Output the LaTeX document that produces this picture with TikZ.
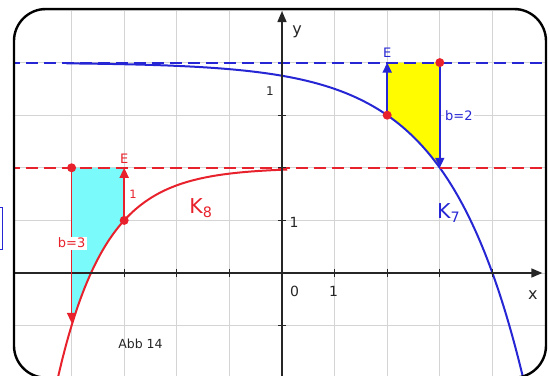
\documentclass[tikz,border=0pt]{standalone}
\usepackage{fontspec}
\setmainfont{DejaVu Sans}
\usetikzlibrary{arrows.meta,positioning}
\definecolor{kblue}{RGB}{38,38,212}
\definecolor{kred}{RGB}{232,34,44}
\definecolor{kcyan}{RGB}{122,250,250}
\definecolor{kyellow}{RGB}{255,252,0}

\begin{document}
\begin{tikzpicture}[
    x=52.6pt, y=52.6pt,
    font=\fontsize{13}{15}\selectfont,
    gridline/.style={black!17, line width=0.8pt},
    axis/.style={-{Triangle[length=11pt,width=9pt]}, line width=1.5pt, black!85},
    tickmark/.style={line width=1.3pt, black!85},
    curve/.style={line width=2pt, samples=160, smooth},
    asym/.style={line width=1.9pt, dash pattern=on 12pt off 6pt},
    shiftarrow/.style={-{Triangle[length=10pt,width=9pt]}, line width=1.8pt},
    dot/.style={circle, fill=kred, inner sep=0pt, minimum size=9pt},
    numlabel/.style={font=\fontsize{14}{16}\selectfont, black!85, inner sep=0pt},
    blabel/.style={fill=white, inner sep=1.5pt, font=\fontsize{13}{15}\selectfont},
    klabel/.style={font=\fontsize{20.5}{22}\selectfont, inner sep=0pt}
]
\useasboundingbox (-5.361,-1.958) rectangle (5.076,5.190);

\begin{scope}
\clip[rounded corners=32pt] (-5.095,-1.99) rectangle (5.019,5.019);
% grid
\foreach \i in {-4,...,4}
    \draw[gridline] (\i,-2.2) -- (\i,5.2);
\foreach \j in {-1,...,5}
    \draw[gridline] (-5.2,\j) -- (5.2,\j);

% areas
\fill[kcyan] plot[domain=-4:-3, samples=40] (\x,{2-pow(3,-(\x)-3)})
    -- (-3,2) -- (-4,2) -- cycle;
\fill[kyellow] plot[domain=2:3, samples=40] (\x,{4-pow(2,\x-2)})
    -- (3,4) -- (2,4) -- cycle;

% curves
\draw[curve, kblue] plot[domain=-4.1:4.6] (\x,{4-pow(2,\x-2)});
\draw[curve, kred] plot[domain=-4.27:0.1] (\x,{2-pow(3,-(\x)-3)});

% asymptotes
\draw[asym, kblue] (-5.2,4) -- (5.2,4);
\draw[asym, kred] (-5.2,2) -- (5.2,2);

% axes
\coordinate (o) at (0,0);
\coordinate (xend) at (4.95,0);
\coordinate (yend) at (0,4.98);
\draw[axis] (-5.2,0) -- (xend);
\draw[axis] (0,-2.2) -- (yend);
\foreach \i in {-4,...,-1,1,2,3,4}
    \draw[tickmark] (\i,0) ++(0,-4pt) -- ++(0,8pt);
\foreach \j in {-1,1,2,3}
    \draw[tickmark] (0,\j) ++(-4pt,0) -- ++(8pt,0);

% shifts
\coordinate (p8) at (-4,2);
\coordinate (q8) at (-4,-0.95);
\coordinate (r8) at (-3,1);
\coordinate (s8) at (-3,2);
\coordinate (p7) at (2,3);
\coordinate (s7) at (2,4);
\coordinate (r7) at (3,4);
\coordinate (q7) at (3,2);
\draw[shiftarrow, kred] (p8) -- (q8)
    node[blabel, text=kred, pos=0.485] (b8) {b=3};
\draw[shiftarrow, kred] (r8) -- (s8)
    node[pos=0.5, right=1pt, text=kred, font=\fontsize{11.5}{13}\selectfont] (one8) {1};
\draw[shiftarrow, kblue] (p7) -- (s7);
\draw[shiftarrow, kblue] (r7) -- (q7)
    node[blabel, text=kblue, pos=0.5, anchor=west, xshift=3pt] (b7) {b=2};
\node[dot] (dp8) at (p8) {};
\node[dot] (dr8) at (r8) {};
\node[dot] (dp7) at (p7) {};
\node[dot] (dr7) at (r7) {};
\end{scope}

% labels
\node[text=kred, above=4.5pt of s8, inner sep=0pt] (e8) {E};
\node[text=kblue, above=4.5pt of s7, inner sep=0pt] (e7) {E};
\node[klabel, text=kred] (k8) at (-1.54,1.23) {K\textsubscript{8}};
\node[klabel, text=kblue] (k7) at (3.17,1.14) {K\textsubscript{7}};
\node[font=\fontsize{16}{18}\selectfont, black!85] (ylab) at (0.285,4.58) {y};
\node[font=\fontsize{16}{18}\selectfont, black!85] (xlab) at (4.77,-0.42) {x};
\node[numlabel] (n0) at (0.24,-0.35) {0};
\node[numlabel] (nx1) at (0.98,-0.35) {1};
\node[numlabel] (ny1) at (0.23,0.97) {1};
\node[numlabel, font=\fontsize{12}{14}\selectfont] (nq1) at (-0.23,3.46) {1};
\node[black!85, font=\fontsize{12.5}{14}\selectfont] (abb) at (-2.69,-1.35) {Abb 14};

% frame
\draw[line width=2.4pt, rounded corners=32pt] (-5.095,-1.99) rectangle (5.019,5.019);
\draw[kblue, line width=0.8pt] (-5.361,1.255) -- (-5.323,1.255)
    -- (-5.323,0.456) -- (-5.361,0.456);
\end{tikzpicture}
\end{document}
